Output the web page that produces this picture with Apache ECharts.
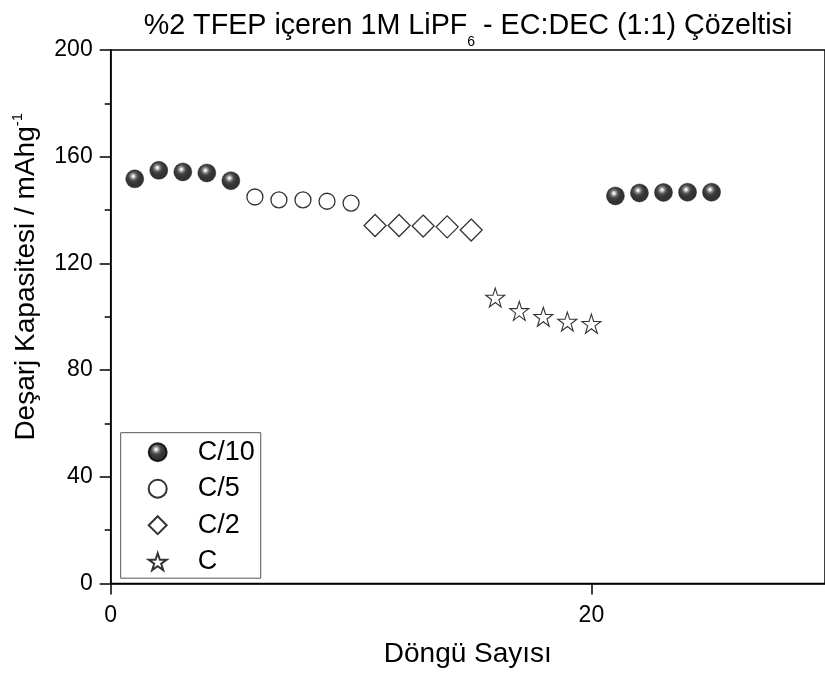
<!DOCTYPE html>
<html>
<head>
<meta charset="utf-8">
<script src="https://cdn.jsdelivr.net/npm/echarts@6/dist/echarts.min.js"></script>
<style>html,body{margin:0;padding:0;background:#fff}#c{width:825px;height:674px}</style>
</head>
<body>
<div id="c"></div>
<script>
// ---- data ----
const seriesNames = ['C/10', 'C/5', 'C/2', 'C'];
const cyclesC10 = [1, 2, 3, 4, 5, 21, 22, 23, 24, 25];
const capC10 = [151.7, 154.9, 154.3, 153.9, 151.0, 145.3, 146.4, 146.6, 146.7, 146.7];
const cyclesC5 = [6, 7, 8, 9, 10];
const capC5 = [144.9, 143.8, 143.8, 143.3, 142.6];
const cyclesC2 = [11, 12, 13, 14, 15];
const capC2 = [134.2, 134.2, 134.0, 133.7, 132.5];
const cyclesC1 = [16, 17, 18, 19, 20];
const capC1 = [107.2, 102.2, 100.0, 98.2, 97.4];
const xTicks = [0, 20];
const yTicks = [0, 40, 80, 120, 160, 200];

const pair = (xs, ys) => xs.map((x, i) => [x, ys[i]]);
const FONT = 'Liberation Sans, Arial, sans-serif';
const star = 'path://M50,0 L61.8,35.1 L98.9,35.1 L68.9,56.8 L80.3,91.9 L50,70.2 L19.7,91.9 L31.1,56.8 L1.1,35.1 L38.2,35.1 Z';
const sphere = {
  type: 'radial', x: 0.42, y: 0.36, r: 0.62,
  colorStops: [
    {offset: 0, color: '#ffffff'},
    {offset: 0.1, color: '#dddddd'},
    {offset: 0.22, color: '#777777'},
    {offset: 0.4, color: '#1a1a1a'},
    {offset: 0.65, color: '#000000'},
    {offset: 1, color: '#000000'}
  ]
};

const chart = echarts.init(document.getElementById('c'), null, {renderer: 'canvas'});
chart.setOption({
  backgroundColor: '#fff',
  animation: false,
  title: {
    text: '{a|%2 TFEP içeren 1M LiPF}{s|6}{a| - EC:DEC (1:1) Çözeltisi}',
    left: 463, top: 4, textAlign: 'center',
    textStyle: {
      fontWeight: 'normal',
      rich: {
        a: {fontFamily: FONT, fontSize: 28.7, fontWeight: 'normal', color: '#000', lineHeight: 34},
        s: {fontFamily: FONT, fontSize: 14, fontWeight: 'normal', color: '#000', lineHeight: 34, verticalAlign: 'bottom', padding: [0, 0, -6, 0]}
      }
    }
  },
  grid: {left: 110.7, top: 50, right: 0, bottom: 90.5, show: true, borderColor: '#000', borderWidth: 1.5, containLabel: false},
  legend: {
    orient: 'vertical', left: 120.7, top: 432.7,
    data: seriesNames,
    borderColor: '#555', borderWidth: 1,
    padding: [6, 6, 3, 27],
    itemGap: 9.5, itemWidth: 18, itemHeight: 18,
    textStyle: {fontFamily: FONT, fontSize: 27, color: '#000', lineHeight: 26, padding: [0, 0, 0, 26]}
  },
  xAxis: {
    type: 'value', min: 0, max: 29.72, interval: 20,
    name: 'Döngü Sayısı', nameLocation: 'middle', nameGap: 57,
    nameTextStyle: {fontFamily: FONT, fontSize: 28, color: '#000'},
    axisLine: {show: true, onZero: false, lineStyle: {color: '#000', width: 1.5}},
    axisTick: {show: true, inside: false, length: 11, lineStyle: {color: '#000', width: 1.5}},
    axisLabel: {fontFamily: FONT, fontSize: 23, color: '#000', margin: 21, showMaxLabel: false},
    splitLine: {show: false}
  },
  yAxis: {
    type: 'value', min: 0, max: 200, interval: 40,
    name: '{a|Deşarj Kapasitesi / mAhg}{u|-1}', nameLocation: 'middle', nameGap: 68,
    nameTextStyle: {
      padding: [0, 0, 0, 80],
      rich: {
        a: {fontFamily: FONT, fontSize: 28, color: '#000', lineHeight: 32},
        u: {fontFamily: FONT, fontSize: 15, color: '#000', lineHeight: 32, verticalAlign: 'top'}
      }
    },
    axisLine: {show: true, onZero: false, lineStyle: {color: '#000', width: 1.5}},
    axisTick: {show: true, inside: false, length: 11, lineStyle: {color: '#000', width: 1.5}},
    minorTick: {show: true, splitNumber: 2, length: 6, lineStyle: {color: '#000', width: 1.5}},
    axisLabel: {fontFamily: FONT, fontSize: 23, color: '#000', margin: 18},
    splitLine: {show: false}
  },
  series: [
    {name: 'C/10', type: 'scatter', data: pair(cyclesC10, capC10), symbol: 'circle', symbolSize: 18,
     itemStyle: {color: sphere, borderColor: '#000', borderWidth: 0.5}, z: 3},
    {name: 'C/5', type: 'scatter', data: pair(cyclesC5, capC5), symbol: 'circle', symbolSize: 16,
     itemStyle: {color: '#fff', borderColor: '#000', borderWidth: 1.3}},
    {name: 'C/2', type: 'scatter', data: pair(cyclesC2, capC2), symbol: 'diamond', symbolSize: 22,
     itemStyle: {color: '#fff', borderColor: '#000', borderWidth: 1.3}},
    {name: 'C', type: 'scatter', data: pair(cyclesC1, capC1), symbol: star, symbolSize: 19,
     itemStyle: {color: '#fff', borderColor: '#000', borderWidth: 1.1}}
  ]
});
</script>
</body>
</html>
